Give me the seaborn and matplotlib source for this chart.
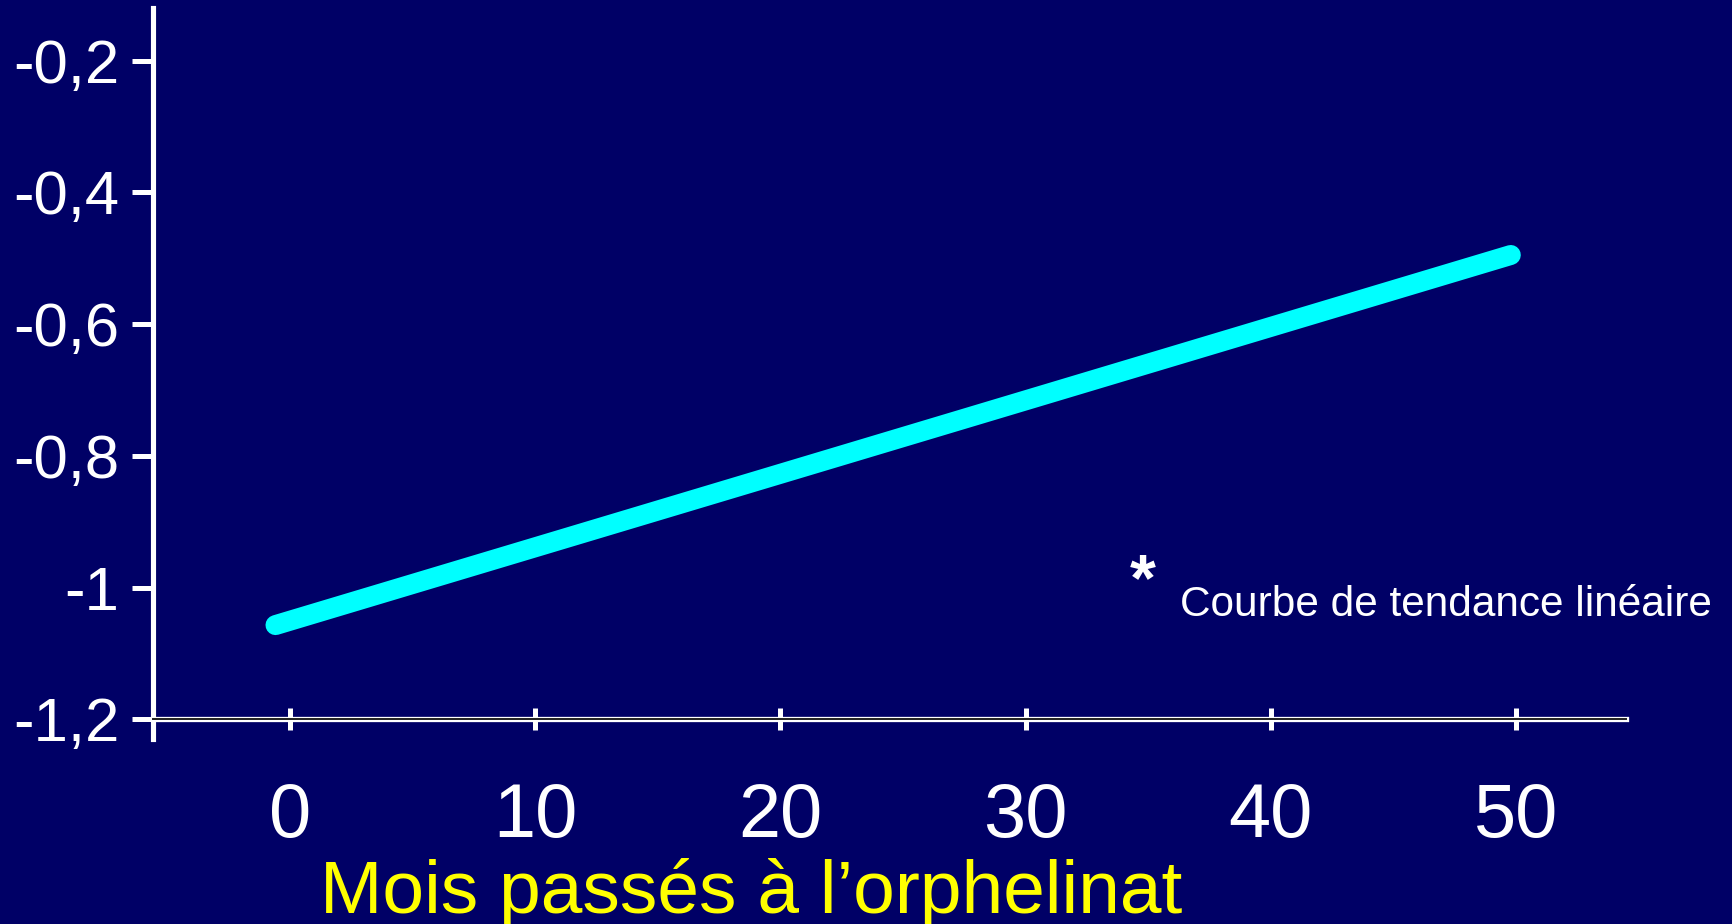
import matplotlib
matplotlib.use("Agg")
import matplotlib.pyplot as plt
import matplotlib.patheffects as pe
import pandas as pd
import seaborn as sns

# Linear trend line: months spent in the orphanage vs. score
months = [-0.6, 49.8]
trend = [-1.057, -0.495]

x_ticks = [0, 10, 20, 30, 40, 50]
x_tick_labels = ["0", "10", "20", "30", "40", "50"]
y_ticks = [-1.2, -1.0, -0.8, -0.6, -0.4, -0.2]
y_tick_labels = ["-1,2", "-1", "-0,8", "-0,6", "-0,4", "-0,2"]
x_label = "Mois passés à l’orphelinat"
note = "Courbe de tendance linéaire"

BG = "#000066"
LINE = "#00FFFF"
YELLOW = "#FFFF00"

sns.set_theme(style="white")
plt.rcParams["font.family"] = ["Liberation Sans", "DejaVu Sans"]

fig = plt.figure(figsize=(17.32, 9.24), dpi=100, facecolor=BG)
ax = fig.add_axes([0.0883, 0.2002, 0.8505, 0.7911], facecolor=BG)

df = pd.DataFrame({"mois": months, "score": trend})
sns.lineplot(data=df, x="mois", y="score", ax=ax, color=LINE,
             linewidth=14.4, solid_capstyle="round", zorder=3)

ax.set_xlim(-5.6, 54.5)
ax.set_ylim(-1.23, -0.12)
ax.set_xlabel("")
ax.set_ylabel("")
ax.grid(False)

for side in ("top", "right"):
    ax.spines[side].set_visible(False)
ax.spines["left"].set_color("white")
ax.spines["left"].set_linewidth(3.7)
ax.spines["bottom"].set_position(("data", -1.2))
ax.spines["bottom"].set_color("#202020")
ax.spines["bottom"].set_linewidth(1.4)
ax.spines["bottom"].set_path_effects([pe.withStroke(linewidth=3.8, foreground="white")])

ax.set_xticks(x_ticks)
ax.set_xticklabels(x_tick_labels)
ax.set_yticks(y_ticks)
ax.set_yticklabels(y_tick_labels)

ax.tick_params(axis="x", bottom=True, direction="inout", length=16.5, width=3.6,
               colors="white", labelsize=54.5, pad=37)
ax.tick_params(axis="y", left=True, direction="out", length=15, width=3.6,
               colors="white", labelsize=44.4, pad=9)

fig.text(0.6596, 0.3505, "*", color="white", fontsize=48, fontweight="bold",
         ha="center", va="baseline")
fig.text(0.6813, 0.3333, note, color="white", fontsize=30.5,
         ha="left", va="baseline")
fig.text(0.1848, 0.012, x_label, color=YELLOW, fontsize=54,
         ha="left", va="baseline")

fig.savefig("out.png", dpi=100, facecolor=BG)
